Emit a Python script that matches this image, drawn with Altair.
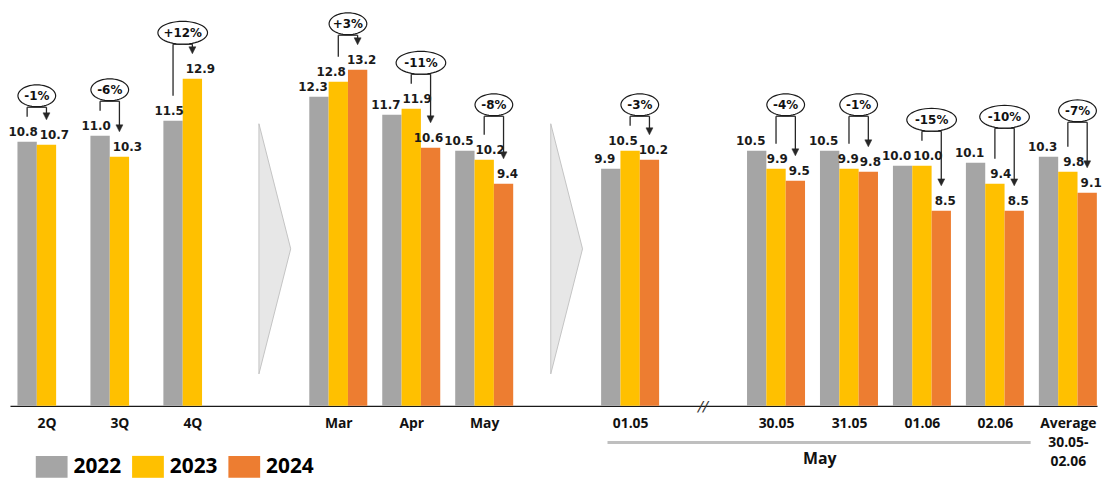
import math
import altair as alt
import pandas as pd

# ---------------- data ----------------
layout = ["2Q", "3Q", "4Q", ">", "Mar", "Apr", "May", ">", "01.05", "//",
          "30.05", "31.05", "01.06", "02.06", "Average|30.05-|02.06"]
categories = [c for c in layout if c not in (">", "//")]
years = ["2022", "2023", "2024"]
v2022 = [10.8, 11.0, 11.5, 12.3, 11.7, 10.5, 9.9, 10.5, 10.5, 10.0, 10.1, 10.3]
v2023 = [10.7, 10.3, 12.9, 12.8, 11.9, 10.2, 10.5, 9.9, 9.9, 10.0, 9.4, 9.8]
v2024 = [None, None, None, 13.2, 10.6, 9.4, 10.2, 9.5, 9.8, 8.5, 8.5, 9.1]
changes = ["-1%", "-6%", "+12%", "+3%", "-11%", "-8%", "-3%", "-4%", "-1%", "-15%", "-10%", "-7%"]
colors = ["#a5a5a5", "#ffc000", "#ed7d31"]
group_label = "May"

# ---------------- build tables ----------------
BW = 0.265           # bar width in slot units
PXX = 73.49          # pixels per slot unit
PXY = 30.23          # pixels per value unit
slot = {c: i for i, c in enumerate(layout) if c not in (">", "//")}
series = [v2022, v2023, v2024]


def text_w(s):
    return sum(4.6 if ch == "." else 8.35 for ch in s)


bar_rows = []
for ci, c in enumerate(categories):
    two = series[2][ci] is None
    shift = [-4, 8, 0] if two else [-6, 6, 4]
    for k, y in enumerate(years):
        v = series[k][ci]
        if v is None:
            continue
        cx = slot[c] + (k - 1) * BW
        lab = f"{v:.1f}"
        bar_rows.append(dict(cat=c, year=y, value=v, x0=cx - BW / 2, x1=cx + BW / 2,
                             xc=cx, lxp=cx * PXX + shift[k], w=text_w(lab), label=lab))
# keep neighbouring value labels apart (right to left)
for i in range(len(bar_rows) - 2, -1, -1):
    a, b = bar_rows[i], bar_rows[i + 1]
    right_a = a["lxp"] + a["w"] / 2
    left_b = b["lxp"] - b["w"] / 2
    if right_a > left_b - 1 and abs(a["value"] - b["value"]) * PXY < 13:
        a["lxp"] = left_b - 1 - a["w"] / 2
for r in bar_rows:
    r["lx"] = r["lxp"] / PXX
bars = pd.DataFrame(bar_rows)

seg_rows, note_rows = [], []
for ci, c in enumerate(categories):
    vals = [s[ci] for s in series]
    kl, kr = (0, 1) if vals[2] is None else (1, 2)
    s = slot[c]
    xl = s + (kl - 1) * BW
    xr = s + (kr - 1) * BW
    top = max(v for v in vals if v is not None)
    b = top + 1.15
    lb = vals[kl] + 0.83
    tip = vals[kr] + 0.83
    seg_rows.append(dict(x=xl, x2=xl, y=lb, y2=b))
    seg_rows.append(dict(x=xl, x2=xr, y=b, y2=b))
    seg_rows.append(dict(x=xr, x2=xr, y=b, y2=tip + 0.2))
    note_rows.append(dict(x=(xl + xr) / 2, y=b + 0.38, text=changes[ci],
                          n=len(changes[ci]), xr=xr, tip=tip))
segs = pd.DataFrame(seg_rows)
notes = pd.DataFrame(note_rows)
notes3 = notes[notes["n"] == 3].reset_index(drop=True)
notes4 = notes[notes["n"] == 4].reset_index(drop=True)

chev = pd.DataFrame([dict(x=i + 0.13, y=7.23) for i, c in enumerate(layout) if c == ">"])
brk = pd.DataFrame([dict(x=i, y=2.0, t="//") for i, c in enumerate(layout) if c == "//"])
span = pd.DataFrame([dict(x=slot["01.05"] - 0.31, x2=slot["02.06"] + 0.49, y=0.78,
                          tx=10.6, ty=0.21, t=group_label)])


def ellipse_path(w, h, n=48):
    pts = []
    for i in range(n):
        t = 2 * math.pi * i / n
        pts.append(f"{math.cos(t):.4f} {h / w * math.sin(t):.4f}")
    return "M " + " L ".join(pts) + " Z"


labels_js = []
for i, c in enumerate(layout):
    if c in (">", "//"):
        labels_js.append("''")
    elif "|" in c:
        labels_js.append("[" + ",".join(f"'{p}'" for p in c.split("|")) + "]")
    else:
        labels_js.append(f"'{c}'")
label_expr = "[" + ",".join(labels_js) + "][round(datum.value)]"

xscale = alt.Scale(domain=[-0.5, 14.4], nice=False, zero=False)
yscale = alt.Scale(domain=[2, 15], nice=False, zero=False)

x_axis = alt.Axis(values=list(slot.values()), labelExpr=label_expr, title=None,
                  ticks=False, grid=False, domainColor="#1a1a1a", domainWidth=1.3,
                  labelFont="Open Sans", labelFontSize=14, labelFontWeight="bold",
                  labelColor="#111111", labelPadding=11, labelFlush=False,
                  labelOverlap=False, labelBaseline="top", labelLineHeight=19)


def X(f):
    return alt.X(f, scale=xscale, axis=x_axis)


def Y(f):
    return alt.Y(f, scale=yscale, axis=None)


bar_layer = alt.Chart(bars).mark_bar().encode(
    x=X("x0:Q"),
    x2="x1:Q",
    y=Y("value:Q"),
    y2=alt.datum(2),
    color=alt.Color("year:N", scale=alt.Scale(domain=years, range=colors),
                    legend=alt.Legend(orient="none", legendX=26, legendY=438,
                                      direction="horizontal", title=None,
                                      symbolType="M -1 -0.69 L 1 -0.69 L 1 0.69 L -1 0.69 Z",
                                      symbolSize=1024, symbolStrokeWidth=0, symbolOpacity=1,
                                      labelFont="Open Sans", labelFontSize=21,
                                      labelFontWeight="bold", labelColor="#000000",
                                      labelOffset=6, columnPadding=10, padding=0,
                                      labelLimit=200)),
)

value_layer = alt.Chart(bars).mark_text(dy=-6, baseline="alphabetic", font="DejaVu Sans",
                                        fontSize=12, fontWeight="bold", color="#1a1a1a").encode(
    x=X("lx:Q"), y=Y("value:Q"), text="label:N")

chev_layer = alt.Chart(chev).mark_point(
    shape="M -0.127 -1 L 0.127 0 L -0.127 1 Z", size=252 ** 2, fill="#e7e7e7",
    stroke="#c4c4c4", strokeWidth=1, opacity=1, fillOpacity=1).encode(x=X("x:Q"), y=Y("y:Q"))

brk_layer = alt.Chart(brk).mark_text(font="DejaVu Sans", fontSize=15, baseline="middle",
                                     fontStyle="italic", color="#333333").encode(
    x=X("x:Q"), y=Y("y:Q"), text="t:N")

span_rule = alt.Chart(span).mark_rule(color="#bfbfbf", strokeWidth=3).encode(
    x=X("x:Q"), x2="x2:Q", y=Y("y:Q"))
span_text = alt.Chart(span).mark_text(font="Open Sans", fontSize=16, fontWeight="bold",
                                      baseline="middle", color="#111111").encode(
    x=X("tx:Q"), y=Y("ty:Q"), text="t:N")

seg_layer = alt.Chart(segs).mark_rule(color="#262626", strokeWidth=1.3).encode(
    x=X("x:Q"), x2="x2:Q", y=Y("y:Q"), y2="y2:Q")

arrow_layer = alt.Chart(notes).mark_point(
    shape="M -1 -2 L 1 -2 L 0 0 Z", size=49, fill="#262626", stroke="#262626",
    strokeWidth=0.5, opacity=1, fillOpacity=1).encode(x=X("xr:Q"), y=Y("tip:Q"))

ell3 = alt.Chart(notes3).mark_point(
    shape=ellipse_path(38, 22), size=38 ** 2, fill="white", stroke="#1a1a1a",
    strokeWidth=1.2, opacity=1, fillOpacity=1).encode(x=X("x:Q"), y=Y("y:Q"))
ell4 = alt.Chart(notes4).mark_point(
    shape=ellipse_path(50, 23), size=50 ** 2, fill="white", stroke="#1a1a1a",
    strokeWidth=1.2, opacity=1, fillOpacity=1).encode(x=X("x:Q"), y=Y("y:Q"))
note_text = alt.Chart(notes).mark_text(font="DejaVu Sans", fontSize=12, fontWeight="bold",
                                       baseline="middle", color="#111111").encode(
    x=X("x:Q"), y=Y("y:Q"), text="text:N")

chart = alt.layer(
    chev_layer, bar_layer, value_layer, brk_layer, span_rule, span_text,
    seg_layer, arrow_layer, ell3, ell4, note_text,
).properties(
    width=1095, height=393,
    padding={"left": 2, "top": 6, "right": 5, "bottom": 71},
    autosize=alt.AutoSizeParams(type="none"),
).configure_view(stroke=None)

chart.save("out.html", embed_options={"renderer": "svg", "actions": False})
